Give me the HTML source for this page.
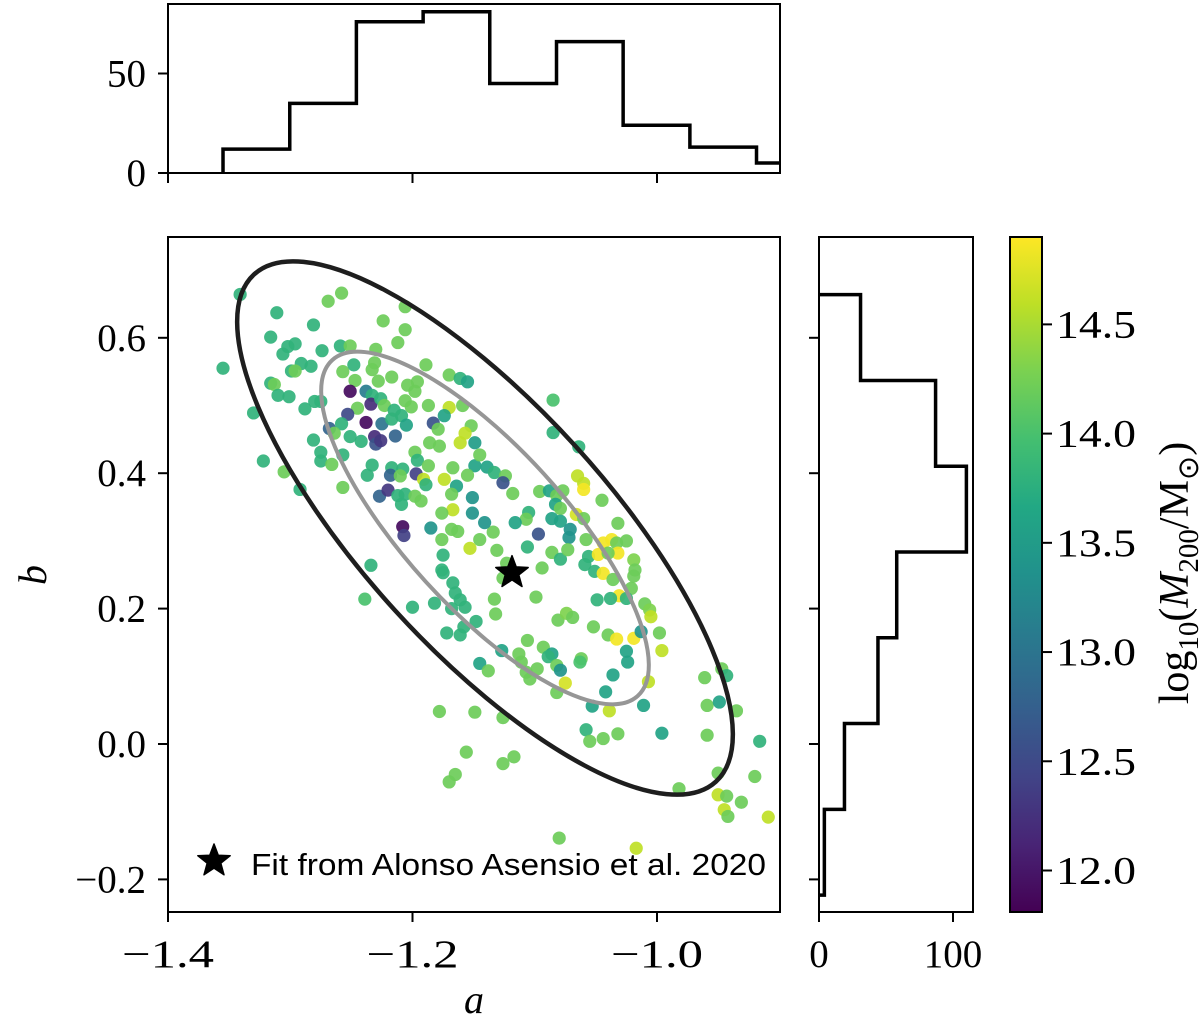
<!DOCTYPE html>
<html><head><meta charset="utf-8"><style>
html,body{margin:0;padding:0;background:#fff;}
svg{display:block;}
.tk{font-family:"Liberation Serif",serif;font-size:39px;fill:#000;}
</style></head><body>
<svg id="fig" width="1200" height="1021" viewBox="0 0 1200 1021" xmlns="http://www.w3.org/2000/svg">
<defs>
<linearGradient id="vir" x1="0" y1="1" x2="0" y2="0">
<stop offset="0" stop-color="#440154"/><stop offset="0.1" stop-color="#482475"/><stop offset="0.2" stop-color="#414487"/><stop offset="0.3" stop-color="#355f8d"/><stop offset="0.4" stop-color="#2a788e"/><stop offset="0.5" stop-color="#21918c"/><stop offset="0.6" stop-color="#22a884"/><stop offset="0.7" stop-color="#44bf70"/><stop offset="0.8" stop-color="#7ad151"/><stop offset="0.9" stop-color="#bddf26"/><stop offset="1" stop-color="#fde725"/>
</linearGradient>
<clipPath id="mainclip"><rect x="168" y="237" width="612" height="676"/></clipPath>
</defs>
<g id="main"></g>
<g id="tophist"></g>
<g id="righthist"></g>
<g id="cbar"></g>
</svg>
<script>
// ---- data ----
const aVals=[-1.341,-1.258,-1.269,-1.206,-1.311,-1.224,-1.281,-1.206,-1.316,-1.212,-1.296,-1.302,-1.259,-1.251,-1.274,-1.306,-1.230,-1.355,-1.291,-1.283,-1.299,-1.296,-1.248,-1.231,-1.233,-1.189,-1.257,-1.247,-1.228,-1.217,-1.170,-1.161,-1.155,-1.204,-1.196,-1.316,-1.313,-1.251,-1.238,-1.233,-1.310,-1.301,-1.198,-1.234,-1.226,-1.280,-1.275,-1.288,-1.245,-1.223,-1.215,-1.206,-1.201,-1.187,-1.170,-1.159,-1.174,-1.330,-1.253,-1.238,-1.225,-1.217,-1.209,-1.205,-1.183,-1.179,-1.152,-1.157,-1.268,-1.258,-1.264,-1.251,-1.242,-1.281,-1.231,-1.230,-1.226,-1.214,-1.186,-1.178,-1.161,-1.149,-1.275,-1.275,-1.266,-1.257,-1.198,-1.196,-1.187,-1.167,-1.149,-1.322,-1.305,-1.233,-1.237,-1.217,-1.208,-1.218,-1.210,-1.197,-1.191,-1.189,-1.174,-1.155,-1.164,-1.257,-1.292,-1.227,-1.220,-1.212,-1.206,-1.198,-1.193,-1.209,-1.168,-1.167,-1.176,-1.151,-1.151,-1.208,-1.207,-1.185,-1.168,-1.163,-1.176,-1.153,-1.175,-1.176,-1.234,
-1.085,-1.085,-1.064,-1.065,-1.060,-1.060,-1.045,-1.032,-1.066,-1.060,-1.145,-1.139,-1.133,-1.124,-1.126,-1.118,-1.096,-1.088,-1.082,-1.077,-1.083,-1.079,-1.105,-1.107,-1.116,-1.086,-1.079,-1.071,-1.072,-1.097,-1.134,-1.141,-1.145,-1.131,-1.106,-1.086,-1.079,-1.073,-1.058,-1.056,-1.059,-1.051,-1.044,-1.037,-1.033,-1.032,-1.048,-1.040,-1.025,-1.019,-1.018,-1.019,-1.044,-1.036,-1.021,-1.031,-1.038,-1.049,-1.025,-1.010,-1.006,-1.005,-1.094,-1.123,-1.126,-1.133,-1.099,-1.132,-1.148,-1.157,-1.167,-1.175,-1.165,-1.161,-1.182,-1.200,-1.168,-1.158,-1.161,-1.172,-1.081,-1.074,-1.069,-1.052,-1.040,-1.033,-1.019,-1.013,-0.998,-0.996,-1.025,-1.024,-1.106,-1.093,-1.086,-1.089,-1.082,-1.079,-1.062,-1.063,-1.127,-1.113,-1.111,-1.098,-1.107,-1.104,-1.145,-1.138,-1.075,-1.082,-1.036,-1.042,-0.961,-0.947,-0.943,-1.007,
-1.239,-1.178,-1.149,-1.126,-1.058,-1.055,-1.044,-1.032,-0.996,-0.959,-0.959,-0.949,-0.935,-1.011,-1.039,-1.053,-0.916,-0.950,-0.920,-0.982,-0.950,-0.943,-0.931,-0.945,-0.942,-0.909,-1.156,-1.117,-1.126,-1.165,-1.170,-1.080,-1.017];
const bVals=[0.664,0.666,0.654,0.646,0.637,0.625,0.619,0.612,0.601,0.593,0.591,0.587,0.588,0.588,0.581,0.576,0.583,0.555,0.562,0.558,0.551,0.551,0.560,0.563,0.553,0.560,0.550,0.537,0.536,0.542,0.545,0.540,0.535,0.530,0.535,0.533,0.531,0.521,0.521,0.515,0.515,0.513,0.521,0.502,0.510,0.506,0.506,0.495,0.496,0.500,0.493,0.507,0.498,0.500,0.497,0.500,0.485,0.489,0.487,0.475,0.473,0.480,0.485,0.471,0.474,0.465,0.470,0.459,0.466,0.473,0.459,0.454,0.447,0.449,0.454,0.443,0.448,0.455,0.445,0.440,0.445,0.445,0.431,0.418,0.413,0.427,0.431,0.419,0.411,0.408,0.411,0.418,0.402,0.412,0.397,0.408,0.406,0.397,0.396,0.399,0.391,0.383,0.391,0.397,0.381,0.379,0.376,0.366,0.375,0.367,0.369,0.366,0.359,0.354,0.369,0.346,0.341,0.364,0.341,0.321,0.308,0.319,0.317,0.314,0.302,0.289,0.279,0.257,0.264,
0.508,0.460,0.439,0.396,0.385,0.376,0.360,0.326,0.339,0.333,0.427,0.409,0.401,0.396,0.386,0.370,0.373,0.374,0.367,0.374,0.354,0.348,0.342,0.332,0.327,0.333,0.329,0.317,0.305,0.310,0.313,0.327,0.302,0.286,0.291,0.283,0.273,0.287,0.302,0.277,0.265,0.255,0.297,0.302,0.297,0.282,0.280,0.282,0.300,0.272,0.257,0.248,0.252,0.243,0.230,0.219,0.215,0.213,0.215,0.207,0.198,0.188,0.260,0.267,0.245,0.214,0.217,0.192,0.181,0.202,0.238,0.253,0.223,0.213,0.208,0.202,0.200,0.173,0.161,0.164,0.183,0.193,0.187,0.173,0.161,0.155,0.156,0.166,0.164,0.138,0.137,0.121,0.153,0.143,0.133,0.129,0.116,0.109,0.126,0.121,0.138,0.133,0.121,0.111,0.106,0.096,0.119,0.108,0.090,0.076,0.102,0.077,0.098,0.111,0.101,0.092,
0.214,0.048,0.047,0.039,0.021,0.004,0.008,0.015,0.016,0.013,0.057,0.062,0.049,0.057,0.049,0.056,0.004,-0.043,-0.048,-0.066,-0.075,-0.077,-0.086,-0.097,-0.107,-0.108,-0.012,-0.019,-0.029,-0.045,-0.056,-0.139,-0.154];
const massVals=[13.8,14.2,14.2,14.2,13.8,14.2,13.8,14.2,13.8,14.2,13.8,13.8,13.8,14.2,13.8,13.8,14.2,13.8,13.8,13.8,13.8,14.2,13.8,14.2,14.2,14.2,14.2,14.2,14.2,14.2,14.2,13.8,13.6,14.2,14.2,13.8,14.2,11.9,13.1,13.8,13.8,13.8,14.2,12.2,13.8,13.8,13.8,13.8,14.2,14.2,13.8,14.2,14.2,14.2,14.6,14.2,13.6,13.8,12.5,11.9,13.0,13.8,13.8,13.6,12.6,14.2,14.2,14.6,12.8,13.8,14.2,13.8,13.8,13.8,12.2,12.6,12.3,12.8,14.2,14.2,14.6,13.5,13.8,13.8,14.2,13.8,14.2,13.8,14.2,14.2,13.6,13.8,14.2,13.8,13.8,13.8,13.8,12.8,14.2,12.4,14.6,13.8,14.6,14.2,13.6,14.2,13.8,12.8,12.3,13.8,13.8,14.2,14.2,13.8,14.2,14.6,14.2,13.4,13.4,11.9,12.4,13.4,14.2,14.2,14.2,14.6,13.8,13.8,13.8,
14.0,13.8,13.8,14.6,14.6,14.85,14.2,14.2,14.7,14.2,14.2,13.6,13.8,14.2,12.6,14.2,14.2,13.6,14.2,14.2,13.6,14.2,13.8,14.2,13.6,13.6,13.6,13.4,13.4,12.6,14.2,13.4,14.2,14.2,13.8,14.2,13.8,14.2,14.2,13.8,13.8,13.8,14.85,14.85,14.2,14.85,14.85,14.2,14.2,14.3,14.2,14.2,14.85,14.2,14.2,14.85,13.8,13.8,13.8,14.2,14.3,14.6,14.2,14.2,14.2,14.2,14.2,14.2,13.8,13.8,13.8,13.8,13.8,13.8,13.8,13.8,13.8,13.8,13.8,13.8,14.2,14.3,14.2,14.2,14.2,14.85,14.85,13.4,14.2,14.6,13.6,13.6,14.2,14.2,13.6,13.8,14.2,13.4,14.2,14.0,13.6,14.2,14.2,14.2,14.2,14.2,13.6,14.2,14.7,14.2,13.6,13.6,14.2,14.2,13.8,14.6,
14.0,14.2,14.2,14.2,13.8,14.2,14.2,14.2,13.6,14.2,14.2,13.6,14.2,13.6,14.6,13.6,13.8,14.2,14.2,14.2,14.6,14.2,14.2,14.6,14.2,14.6,14.2,14.2,14.2,14.2,14.2,14.2,14.6];
const fitA=[-1.1186], fitB=[0.253];
const topEdges=[-1.355,-1.3004,-1.2459,-1.1913,-1.1368,-1.0822,-1.0277,-0.9731,-0.9186,-0.864];
const topCounts=[12,35,76,81,45,66,24,13,5];
const rightEdges=[-0.2232,-0.0965,0.0302,0.1569,0.2836,0.4103,0.537,0.6637];
const rightCounts=[4,19,44,58,110,87,31];
const xTicks=[-1.4,-1.2,-1.0], xTickLabels=["\u22121.4","\u22121.2","\u22121.0"];
const yTicks=[-0.2,0.0,0.2,0.4,0.6], yTickLabels=["\u22120.2","0.0","0.2","0.4","0.6"];
const histYTicks=[0,50], histYTickLabels=["0","50"];
const histXTicks=[0,100], histXTickLabels=["0","100"];
const cbTicks=[12.0,12.5,13.0,13.5,14.0,14.5], cbTickLabels=["12.0","12.5","13.0","13.5","14.0","14.5"];

// ---- scales ----
const X0=168,X1=780,Y0=237,Y1=912;
const xS=a=>168+(a+1.4)*1222.5;
const yS=b=>744-b*677;
const thY=c=>173-c*1.99;
const rhX=c=>819+c*1.34;
const cbMin=11.81,cbMax=14.9;
const cbY=m=>912-(m-cbMin)/(cbMax-cbMin)*675;
const vir=['#440154','#482475','#414487','#355f8d','#2a788e','#21918c','#22a884','#44bf70','#7ad151','#bddf26','#fde725'];
function hx(h){return [1,3,5].map(i=>parseInt(h.substr(i,2),16));}
function cmap(m){let t=Math.max(0,Math.min(1,(m-cbMin)/(cbMax-cbMin)))*10;let i=Math.min(9,Math.floor(t)),f=t-i;const p=hx(vir[i]),q=hx(vir[i+1]);return 'rgb('+p.map((v,k)=>Math.round(v+(q[k]-v)*f)).join(',')+')';}
const NS='http://www.w3.org/2000/svg';
function mk(tag,attrs,parent,txt){const e=document.createElementNS(NS,tag);for(const k in attrs)e.setAttribute(k,attrs[k]);if(txt!==undefined)e.textContent=txt;parent.appendChild(e);return e;}

// ---- main ----
const main=document.getElementById('main');
const pts=mk('g',{'clip-path':'url(#mainclip)'},main);


for(let i=0;i<aVals.length;i++){
  const c=mk('circle',{cx:xS(aVals[i]),cy:yS(bVals[i]),r:6.6,fill:cmap(massVals[i]),'fill-opacity':0.92},pts);
  
  
}
const ecx=485, ecy=528, eang=47.7;
const e2=mk('ellipse',{cx:ecx,cy:ecy,rx:227,ry:80,transform:`rotate(${eang} ${ecx} ${ecy})`,fill:'none',stroke:'#969696','stroke-width':4},main);


const e3=mk('ellipse',{cx:ecx,cy:ecy,rx:343,ry:122,transform:`rotate(${eang} ${ecx} ${ecy})`,fill:'none',stroke:'#1e1e1e','stroke-width':4.5},main);


function star(cx,cy,R){let s='';for(let k=0;k<10;k++){const r=k%2?R*0.42:R;const an=-Math.PI/2+k*Math.PI/5;s+=(k?'L':'M')+(cx+r*Math.cos(an)).toFixed(1)+' '+(cy+r*Math.sin(an)).toFixed(1);}return s+'Z';}
const st=mk('path',{d:star(xS(fitA[0]),yS(fitB[0]),17),fill:'#000','stroke-linejoin':'round',stroke:'#000','stroke-width':1.5},main);


const lg=mk('g',{},main);


mk('path',{d:star(214,861,17),fill:'#000',stroke:'#000','stroke-width':1.5,'stroke-linejoin':'round'},lg);
const lt=mk('text',{x:251,y:875,'font-family':'"Liberation Sans",sans-serif','font-size':31,textLength:515,lengthAdjust:'spacingAndGlyphs'},lg,'Fit from Alonso Asensio et al. 2020');


mk('rect',{x:X0,y:Y0,width:X1-X0,height:Y1-Y0,fill:'none',stroke:'#000','stroke-width':2},main);
xTicks.forEach((t,i)=>{const x=xS(t);mk('line',{x1:x,y1:Y1,x2:x,y2:Y1+10,stroke:'#000','stroke-width':2},main);
  const tl=mk('text',{x:x,y:967,'text-anchor':'middle',class:'tk',textLength:92,lengthAdjust:'spacingAndGlyphs'},main,xTickLabels[i]);
  
  });
yTicks.forEach((t,i)=>{const y=yS(t);mk('line',{x1:X0-10,y1:y,x2:X0,y2:y,stroke:'#000','stroke-width':2},main);
  const tl=mk('text',{x:146,y:y+13,'text-anchor':'end',class:'tk'},main,yTickLabels[i]);
  
  });
const xl=mk('text',{x:474,y:1013,'text-anchor':'middle','font-family':'"Liberation Serif",serif','font-style':'italic','font-size':40},main,'a');


const yl=mk('text',{x:0,y:0,'text-anchor':'middle','font-family':'"Liberation Serif",serif','font-style':'italic','font-size':40,transform:'translate(46 575) rotate(-90)'},main,'b');



// ---- top histogram ----
const th=document.getElementById('tophist');
let d='M'+xS(topEdges[0])+' '+thY(0);
topCounts.forEach((c,i)=>{d+=' L'+xS(topEdges[i])+' '+thY(c)+' L'+Math.min(X1,xS(topEdges[i+1]))+' '+thY(c);});
const tp=mk('path',{d:d,fill:'none',stroke:'#000','stroke-width':3.5},th);


mk('rect',{x:X0,y:4,width:X1-X0,height:169,fill:'none',stroke:'#000','stroke-width':2},th);
xTicks.forEach(t=>{const x=xS(t);mk('line',{x1:x,y1:173,x2:x,y2:183,stroke:'#000','stroke-width':2},th);});
histYTicks.forEach((t,i)=>{const y=thY(t);mk('line',{x1:X0-10,y1:y,x2:X0,y2:y,stroke:'#000','stroke-width':2},th);
  const tl=mk('text',{x:146,y:y+13,'text-anchor':'end',class:'tk'},th,histYTickLabels[i]);
  
  });

// ---- right histogram ----
const rh=document.getElementById('righthist');
d='M'+rhX(0)+' '+yS(rightEdges[0]);
rightCounts.forEach((c,i)=>{d+=' L'+rhX(c)+' '+yS(rightEdges[i])+' L'+rhX(c)+' '+yS(rightEdges[i+1]);});
d+=' L'+rhX(0)+' '+yS(rightEdges[rightEdges.length-1]);
const rp=mk('path',{d:d,fill:'none',stroke:'#000','stroke-width':3.5},rh);


mk('rect',{x:819,y:Y0,width:154,height:Y1-Y0,fill:'none',stroke:'#000','stroke-width':2},rh);
yTicks.forEach(t=>{const y=yS(t);mk('line',{x1:809,y1:y,x2:819,y2:y,stroke:'#000','stroke-width':2},rh);});
histXTicks.forEach((t,i)=>{const x=rhX(t);mk('line',{x1:x,y1:Y1,x2:x,y2:Y1+10,stroke:'#000','stroke-width':2},rh);
  const tl=mk('text',{x:x,y:967,'text-anchor':'middle',class:'tk'},rh,histXTickLabels[i]);
  
  });

// ---- colorbar ----
const cb=document.getElementById('cbar');
mk('rect',{x:1010,y:Y0,width:32,height:Y1-Y0,fill:'url(#vir)',stroke:'#000','stroke-width':2},cb);
cbTicks.forEach((t,i)=>{const y=cbY(t);mk('line',{x1:1042,y1:y,x2:1052,y2:y,stroke:'#000','stroke-width':2},cb);
  const tl=mk('text',{x:1056,y:y+13,class:'tk',textLength:80,lengthAdjust:'spacingAndGlyphs'},cb,cbTickLabels[i]);
  
  });
const ct=mk('text',{x:0,y:0,'text-anchor':'middle','font-family':'"Liberation Serif",serif','font-size':42,transform:'translate(1188 573) rotate(-90)'},cb);


ct.innerHTML='log<tspan font-size="29" dy="10">10</tspan><tspan dy="-10">(</tspan><tspan font-style="italic">M</tspan><tspan font-size="29" dy="10">200</tspan><tspan dy="-10">/M</tspan><tspan font-size="29" dy="10">\u2299</tspan><tspan dy="-10">)</tspan>';
</script>
</body></html>
